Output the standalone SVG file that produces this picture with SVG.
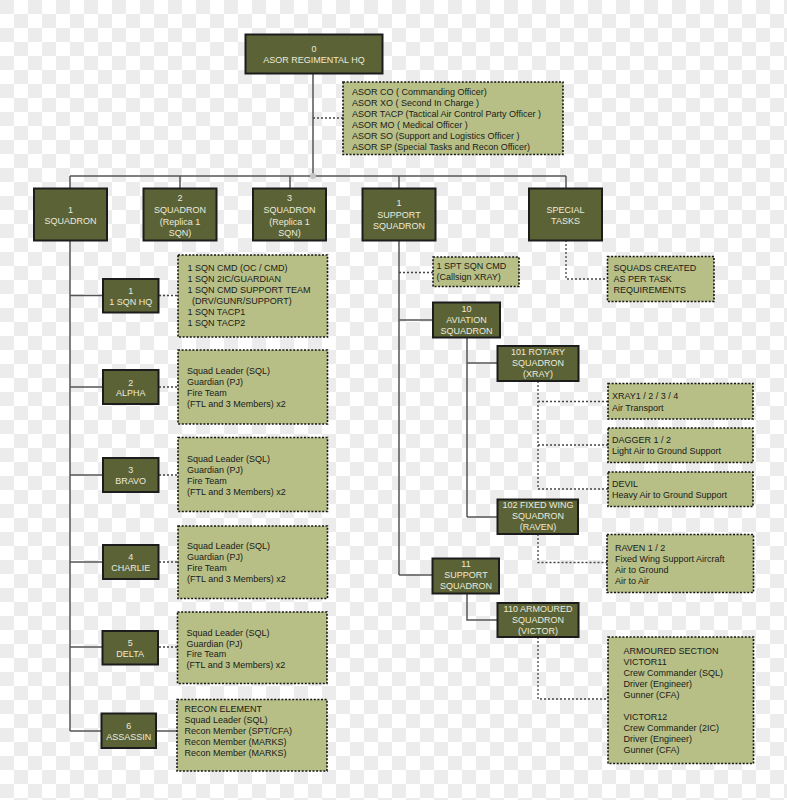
<svg xmlns="http://www.w3.org/2000/svg" width="787" height="800" viewBox="0 0 787 800">
<defs>
<pattern id="chk" width="28" height="28" patternUnits="userSpaceOnUse">
<rect width="28" height="28" fill="#ffffff"/>
<rect width="14" height="14" fill="#ececec"/>
<rect x="14" y="14" width="14" height="14" fill="#ececec"/>
</pattern>
</defs>
<style>
.dk rect{fill:#5b6236;stroke:#1c1c1c;stroke-width:2}
.dk text{fill:#ebebdc;font-family:"Liberation Sans",Arial,sans-serif;font-size:9px;text-anchor:middle}
.lt rect{fill:#b7bf86;stroke:#151515;stroke-width:1.6;stroke-dasharray:2 1.6}
.lt text{fill:#1a1a1a;font-family:"Liberation Sans",Arial,sans-serif;font-size:9px}
.ln{fill:none;stroke:#555;stroke-width:1.5}
.dl{fill:none;stroke:#444;stroke-width:1.3;stroke-dasharray:2 2}
</style>
<rect width="787" height="800" fill="url(#chk)"/>
<g id="connectors">
<path class="ln" d="M313 73V176M70 176H566M70 176V188M180 176V188M290 176V188M399 176V188M566 176V188"/>
<path class="ln" d="M70 240V731M70 295.5H103M70 387H103M70 475H103M70 562H103M70 647H103M70 731H102M156 731H177"/>
<path class="ln" d="M399 240V575M399 320H433M399 575H432M467 337V517M467 363H497M467 517H497M467 593V620H497"/>
<path class="dl" d="M313 118H343M159 295.5H178M159 387H178M159 475H178M159 562H178M159 647H178"/>
<path class="dl" d="M399 272.5H433M566 240V279H607M538 381V489M538 401.5H608M538 445H608M538 489H608M538 534V562.5H607M538 637V699H608"/>
<circle cx="313" cy="176" r="3" fill="#c4c4c4"/>
</g>
<g id="hq" class="dk"><rect x="245.5" y="34.5" width="137" height="39"/><text x="314" y="51.8">0</text><text x="314" y="63">ASOR REGIMENTAL HQ</text></g>
<g id="hq-staff" class="lt"><rect x="343" y="82" width="220" height="72.5"/>
<text x="352" y="95">ASOR CO ( Commanding Officer)</text>
<text x="352" y="106">ASOR XO ( Second In Charge )</text>
<text x="352" y="117">ASOR TACP (Tactical Air Control Party Officer )</text>
<text x="352" y="128">ASOR MO ( Medical Officer )</text>
<text x="352" y="139">ASOR SO (Support and Logistics Officer )</text>
<text x="352" y="150">ASOR SP (Special Tasks and Recon Officer)</text></g>
<g id="sqn1" class="dk"><rect x="34" y="188.5" width="73" height="52"/><text x="70.5" y="212.5">1</text><text x="70.5" y="223.8">SQUADRON</text></g>
<g id="sqn2" class="dk"><rect x="143.5" y="188.5" width="73" height="52"/><text x="180" y="201.3">2</text><text x="180" y="213">SQUADRON</text><text x="180" y="224.8">(Replica 1</text><text x="180" y="236.3">SQN)</text></g>
<g id="sqn3" class="dk"><rect x="253" y="188.5" width="73" height="52"/><text x="289.5" y="201.3">3</text><text x="289.5" y="213">SQUADRON</text><text x="289.5" y="224.8">(Replica 1</text><text x="289.5" y="236.3">SQN)</text></g>
<g id="sptsqn" class="dk"><rect x="362.5" y="188.5" width="73" height="52"/><text x="399" y="206.3">1</text><text x="399" y="218">SUPPORT</text><text x="399" y="229.3">SQUADRON</text></g>
<g id="special" class="dk"><rect x="529" y="188.5" width="73" height="52"/><text x="565.5" y="213">SPECIAL</text><text x="565.5" y="224.3">TASKS</text></g>
<g id="sqnhq" class="dk"><rect x="103" y="279" width="55.5" height="33.5"/><text x="130.7" y="293.8">1</text><text x="130.7" y="304.8">1 SQN HQ</text></g>
<g id="sqnhq-d" class="lt"><rect x="178" y="255" width="149.5" height="82"/>
<text x="187.5" y="271.3">1 SQN CMD (OC / CMD)</text>
<text x="187.5" y="282.2">1 SQN 2IC/GUARDIAN</text>
<text x="187.5" y="293.1">1 SQN CMD SUPPORT TEAM</text>
<text x="192" y="304">(DRV/GUNR/SUPPORT)</text>
<text x="187.5" y="314.9">1 SQN TACP1</text>
<text x="187.5" y="325.8">1 SQN TACP2</text></g>
<g id="alpha" class="dk"><rect x="103" y="370" width="55.5" height="34"/><text x="130.7" y="385.5">2</text><text x="130.7" y="396">ALPHA</text></g>
<g id="alpha-d" class="lt"><rect x="178" y="350" width="149.5" height="74"/>
<text x="187" y="374">Squad Leader (SQL)</text><text x="187" y="384.9">Guardian (PJ)</text><text x="187" y="395.8">Fire Team</text><text x="187" y="406.7">(FTL and 3 Members) x2</text></g>
<g id="bravo" class="dk"><rect x="103" y="458" width="55.5" height="34"/><text x="130.7" y="472.6">3</text><text x="130.7" y="484.3">BRAVO</text></g>
<g id="bravo-d" class="lt"><rect x="178" y="437.5" width="149.5" height="74"/>
<text x="187" y="462.3">Squad Leader (SQL)</text><text x="187" y="473.2">Guardian (PJ)</text><text x="187" y="484.1">Fire Team</text><text x="187" y="495">(FTL and 3 Members) x2</text></g>
<g id="charlie" class="dk"><rect x="103" y="545" width="55.5" height="34"/><text x="130.7" y="560.3">4</text><text x="130.7" y="571.3">CHARLIE</text></g>
<g id="charlie-d" class="lt"><rect x="178" y="526" width="149.5" height="72.5"/>
<text x="187" y="549.3">Squad Leader (SQL)</text><text x="187" y="560.2">Guardian (PJ)</text><text x="187" y="571.1">Fire Team</text><text x="187" y="582">(FTL and 3 Members) x2</text></g>
<g id="delta" class="dk"><rect x="102.5" y="631" width="55.5" height="33.5"/><text x="130.2" y="646">5</text><text x="130.2" y="657">DELTA</text></g>
<g id="delta-d" class="lt"><rect x="177.5" y="612" width="149.5" height="71.5"/>
<text x="186.5" y="635.6">Squad Leader (SQL)</text><text x="186.5" y="646.5">Guardian (PJ)</text><text x="186.5" y="657.4">Fire Team</text><text x="186.5" y="668.3">(FTL and 3 Members) x2</text></g>
<g id="assassin" class="dk"><rect x="101.5" y="713.5" width="54.5" height="34.5"/><text x="128.7" y="729.3">6</text><text x="128.7" y="740">ASSASSIN</text></g>
<g id="assassin-d" class="lt"><rect x="177" y="699.5" width="150" height="71.5"/>
<text x="184.5" y="712.3">RECON ELEMENT</text><text x="184.5" y="723.2">Squad Leader (SQL)</text><text x="184.5" y="734.1">Recon Member (SPT/CFA)</text><text x="184.5" y="745">Recon Member (MARKS)</text><text x="184.5" y="755.9">Recon Member (MARKS)</text></g>
<g id="sptcmd" class="lt"><rect x="433" y="257" width="86" height="29.5"/>
<text x="436.5" y="269.3">1 SPT SQN CMD</text><text x="436.5" y="280.2">(Callsign XRAY)</text></g>
<g id="tasks-d" class="lt"><rect x="607.5" y="256.5" width="106.5" height="45"/>
<text x="613.5" y="271.3">SQUADS CREATED</text><text x="613.5" y="282.2">AS PER TASK</text><text x="613.5" y="293.1">REQUIREMENTS</text></g>
<g id="aviation" class="dk"><rect x="433" y="302.5" width="67" height="35"/><text x="466.5" y="312">10</text><text x="466.5" y="323.3">AVIATION</text><text x="466.5" y="334.3">SQUADRON</text></g>
<g id="rotary" class="dk"><rect x="497.5" y="346" width="81" height="35"/><text x="538" y="355">101 ROTARY</text><text x="538" y="366.3">SQUADRON</text><text x="538" y="377.3">(XRAY)</text></g>
<g id="xray" class="lt"><rect x="608" y="383.5" width="145" height="35.5"/>
<text x="612" y="399.3">XRAY1 / 2 / 3 / 4</text><text x="612" y="410.8">Air Transport</text></g>
<g id="dagger" class="lt"><rect x="608" y="428" width="145" height="34.5"/>
<text x="612" y="443.3">DAGGER 1 / 2</text><text x="612" y="454.3">Light Air to Ground Support</text></g>
<g id="devil" class="lt"><rect x="608" y="472" width="145" height="34.5"/>
<text x="612" y="487.3">DEVIL</text><text x="612" y="498.3">Heavy Air to Ground Support</text></g>
<g id="fixedwing" class="dk"><rect x="497.5" y="499.5" width="80.5" height="34.5"/><text x="538" y="508.3">102 FIXED WING</text><text x="538" y="519.3">SQUADRON</text><text x="538" y="530.3">(RAVEN)</text></g>
<g id="raven" class="lt"><rect x="607" y="534.5" width="146.5" height="58"/>
<text x="615" y="551">RAVEN 1 / 2</text><text x="615" y="562">Fixed Wing Support Aircraft</text><text x="615" y="573">Air to Ground</text><text x="615" y="584">Air to Air</text></g>
<g id="support11" class="dk"><rect x="432.5" y="558.5" width="66.5" height="35"/><text x="466" y="567.3">11</text><text x="466" y="578.3">SUPPORT</text><text x="466" y="589.3">SQUADRON</text></g>
<g id="armoured" class="dk"><rect x="497.5" y="603" width="81" height="34"/><text x="538" y="612.3">110 ARMOURED</text><text x="538" y="623.3">SQUADRON</text><text x="538" y="634.3">(VICTOR)</text></g>
<g id="armoured-d" class="lt"><rect x="608" y="637" width="145.5" height="126.5"/>
<text x="623.5" y="654">ARMOURED SECTION</text><text x="623.5" y="665">VICTOR11</text><text x="623.5" y="676">Crew Commander (SQL)</text><text x="623.5" y="687">Driver (Engineer)</text><text x="623.5" y="698">Gunner (CFA)</text>
<text x="623.5" y="720">VICTOR12</text><text x="623.5" y="731">Crew Commander (2IC)</text><text x="623.5" y="742">Driver (Engineer)</text><text x="623.5" y="753">Gunner (CFA)</text></g>
</svg>
